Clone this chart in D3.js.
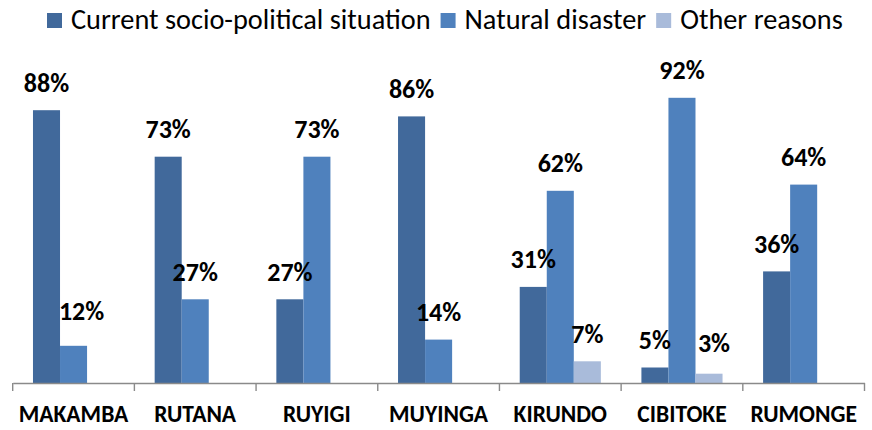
<!DOCTYPE html>
<html>
<head>
<meta charset="utf-8">
<script src="https://cdn.jsdelivr.net/npm/d3@7"></script>
<style>
  html, body { margin: 0; padding: 0; background: #fff; }
  svg { display: block; }
</style>
</head>
<body>
<svg id="chart" width="872" height="430"></svg>
<script>
// ---- data ----
const categories = ["MAKAMBA", "RUTANA", "RUYIGI", "MUYINGA", "KIRUNDO", "CIBITOKE", "RUMONGE"];
const seriesNames = ["Current socio-political situation", "Natural disaster", "Other reasons"];
const sociopolitical = [88, 73, 27, 86, 31, 5, 36];
const naturalDisaster = [12, 27, 73, 14, 62, 92, 64];
const otherReasons = [0, 0, 0, 0, 7, 3, 0];
const seriesValues = [sociopolitical, naturalDisaster, otherReasons];

// ---- styles / layout ----
const colors = ["#41699B", "#4F81BD", "#A9BBDA"];
const fontFamily = "'Carlito', 'Calibri', 'Liberation Sans', Arial, sans-serif";
const svg = d3.select("#chart");
const axisY = 383, topY = 73, left = 12.7, right = 864.5;

const x0 = d3.scaleBand().domain(categories).range([left, right]).paddingInner(0).paddingOuter(0);
// Excel-like gap width 150%: bar width = band / (3 + 1.5)
const groupPad = x0.bandwidth() * 0.75 / 4.5;
const x1 = d3.scaleBand().domain(d3.range(seriesNames.length))
  .range([groupPad, x0.bandwidth() - groupPad]).padding(0);
const y = d3.scaleLinear().domain([0, 100]).range([axisY, topY]);

const rows = [];
categories.forEach((c, i) => {
  seriesValues.forEach((vals, s) => {
    rows.push({ cat: c, s, v: vals[i] });
  });
});

// bars
svg.append("g").selectAll("rect")
  .data(rows.filter(d => d.v > 0))
  .join("rect")
  .attr("x", d => x0(d.cat) + x1(d.s))
  .attr("y", d => y(d.v))
  .attr("width", x1.bandwidth())
  .attr("height", d => y(0) - y(d.v))
  .attr("fill", d => colors[d.s]);

// axis
const axis = d3.axisBottom(x0).tickSize(0).tickFormat("");
const ag = svg.append("g").attr("transform", `translate(0,${axisY})`).call(axis);
ag.select(".domain").attr("stroke", "#8a8a8a").attr("stroke-width", 1.4);
const edges = categories.map(c => x0(c)).concat([right]);
ag.selectAll("line.edge").data(edges).join("line").attr("class", "edge")
  .attr("x1", d => d).attr("x2", d => d).attr("y1", 0).attr("y2", 8)
  .attr("stroke", "#8a8a8a").attr("stroke-width", 1.4);

// category labels
svg.append("g").selectAll("text")
  .data(categories)
  .join("text")
  .attr("x", d => x0(d) + x0.bandwidth() / 2)
  .attr("y", 422)
  .attr("text-anchor", "middle")
  .attr("font-family", fontFamily)
  .attr("font-weight", "bold")
  .attr("font-size", 23.5)
  .attr("fill", "#000")
  .text(d => d);

// value labels (with small manual nudges as in the original)
const nudge = { "MAKAMBA|1": [8, -7], "CIBITOKE|2": [5, -3] };
svg.append("g").selectAll("text")
  .data(rows.filter(d => d.v > 0))
  .join("text")
  .attr("x", d => x0(d.cat) + x1(d.s) + x1.bandwidth() / 2 + ((nudge[d.cat + "|" + d.s] || [0, 0])[0]))
  .attr("y", d => y(d.v) - 18.5 + ((nudge[d.cat + "|" + d.s] || [0, 0])[1]))
  .attr("text-anchor", "middle")
  .attr("font-family", fontFamily)
  .attr("font-weight", "bold")
  .attr("font-size", 26)
  .attr("fill", "#000")
  .text(d => d.v + "%");

// legend: fit to reference span
const legStart = 47, legEnd = 843, sq = 15, sqGap = 9, itemGap = 10;
const lg = svg.append("g");
function layoutLegend(fs) {
  lg.selectAll("*").remove();
  let xPos = legStart;
  seriesNames.forEach((n, i) => {
    lg.append("rect").attr("x", xPos).attr("y", 13).attr("width", sq).attr("height", sq).attr("fill", colors[i]);
    const t = lg.append("text").attr("x", xPos + sq + sqGap).attr("y", 29)
      .attr("font-family", fontFamily).attr("font-size", fs).attr("fill", "#000").text(n);
    xPos += sq + sqGap + t.node().getComputedTextLength() + itemGap;
  });
  return xPos - itemGap;
}
let w = layoutLegend(20);
const textTotal = w - legStart - 3 * (sq + sqGap) - 2 * itemGap;
const targetText = (legEnd - legStart) - 3 * (sq + sqGap) - 2 * itemGap;
layoutLegend(20 * targetText / textTotal);
</script>
</body>
</html>
